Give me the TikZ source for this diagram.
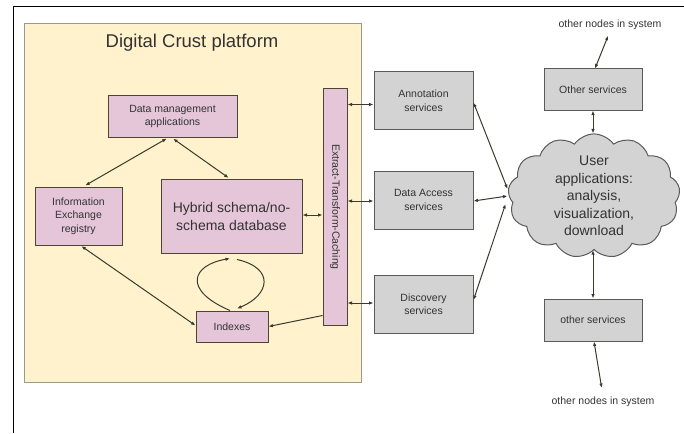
\documentclass[tikz,border=0pt]{standalone}
\usepackage{fontspec}
\setmainfont{Liberation Sans}
\usetikzlibrary{shapes.symbols,arrows.meta,calc}
\definecolor{platfill}{HTML}{FFF2CC}
\definecolor{platdraw}{HTML}{9A9A8A}
\definecolor{pinkfill}{HTML}{E4C6D8}
\definecolor{pinkdraw}{HTML}{4E4434}
\definecolor{grayfill}{HTML}{D3D3D3}
\definecolor{graydraw}{HTML}{5A5A5A}
\definecolor{txt}{HTML}{333333}
\definecolor{arr}{HTML}{3A3A2E}
\begin{document}
\begin{tikzpicture}[x=1pt,y=-1pt,
  pbox/.style={draw=pinkdraw,fill=pinkfill,line width=1pt,inner sep=1pt,align=center,text=txt,font=\fontsize{10.5}{13.5}\selectfont},
  gbox/.style={draw=graydraw,fill=grayfill,line width=1pt,inner sep=1pt,align=center,text=txt,font=\fontsize{10.5}{13.5}\selectfont},
  plain/.style={inner sep=1pt,text=txt,font=\fontsize{10.5}{13}\selectfont},
  dbl/.style={draw=arr,line width=1pt,{Latex[length=4.5pt,width=3.5pt]}-{Latex[length=4.5pt,width=3.5pt]}},
  sgl/.style={draw=arr,line width=1pt,-{Latex[length=4.5pt,width=3.5pt]}}]
\useasboundingbox (0,0) rectangle (684,433);
% outer frame
\draw[black,line width=0.8pt] (13,433) -- (13,6) -- (684,6);
% platform
\node[draw=platdraw,fill=platfill,line width=1pt,minimum width=337pt,minimum height=358pt,inner sep=0pt] (plat) at (192.5,203) {};
\node[plain,font=\fontsize{18.5}{22}\selectfont] (title) at (192,43) {Digital Crust platform};
% pink boxes
\node[pbox,minimum width=129pt,minimum height=41pt] (dma) at (172.5,116.5) {Data management\\applications};
\node[pbox,minimum width=87pt,minimum height=58pt] (ier) at (78.5,216) {Information\\Exchange\\registry};
\node[pbox,minimum width=141pt,minimum height=74pt,font=\fontsize{14}{18}\selectfont] (hyb) at (231.5,216) {Hybrid schema/no-\\schema database};
\node[pbox,minimum width=72pt,minimum height=31pt] (idx) at (232,326.5) {Indexes};
\node[pbox,minimum width=24pt,minimum height=236pt] (etc) at (335,207) {};
\node[plain,rotate=-90] (etclbl) at (etc.center) {Extract-Transform-Caching};
% gray boxes
\node[gbox,minimum width=99pt,minimum height=57pt] (ann) at (423.5,100.5) {Annotation\\services};
\node[gbox,minimum width=99pt,minimum height=58pt] (da) at (423.5,200) {Data Access\\services};
\node[gbox,minimum width=99pt,minimum height=58pt] (disc) at (423.5,304) {Discovery\\services};
\node[gbox,minimum width=98pt,minimum height=41pt] (ots) at (593,89.5) {Other services};
\node[gbox,minimum width=98pt,minimum height=42pt] (obs) at (593,320) {other services};
% cloud
\node[cloud,cloud puffs=13,cloud puff arc=110,draw=graydraw,fill=grayfill,line width=1pt,minimum width=172pt,minimum height=106pt,inner sep=0pt,align=center,text=txt,font=\fontsize{14}{17.5}\selectfont] (cl) at (594,196) {User\\applications:\\analysis,\\visualization,\\download};
% texts
\node[plain] (ttop) at (610,25) {other nodes in system};
\node[plain] (tbot) at (603,402) {other nodes in system};
% connectors inside platform
\draw[dbl,shorten <=2pt,shorten >=2pt] ([xshift=-4pt]dma.south) -- ([xshift=5pt]ier.north);
\draw[dbl,shorten <=2pt,shorten >=1pt] ([xshift=-1pt]dma.south) -- ([xshift=-2pt]hyb.north);
\draw[dbl,shorten <=1pt] ([xshift=2pt]ier.south) -- ([yshift=1pt]idx.west);
\draw[sgl] ([xshift=-2pt]idx.north) .. controls (182,290) and (192,265) .. ([xshift=-1.5pt,yshift=-5pt]hyb.south);
\draw[sgl] ([xshift=5.5pt,yshift=-6pt]hyb.south) .. controls (275,268) and (270,295) .. ([xshift=5pt,yshift=2pt]idx.north);
\draw[dbl] ([yshift=1pt]hyb.east) -- ([yshift=1pt]hyb.east -| etc.west);
\draw[sgl] ([yshift=10pt]etc.south west) -- (idx.east);
% ETC to services
\coordinate (annw) at ([yshift=-4pt]ann.west);
\draw[dbl] (annw) -- (annw -| etc.east);
\draw[dbl] ([yshift=-1pt]da.west) -- ([yshift=-1pt]da.west -| etc.east);
\draw[dbl] ([yshift=1pt]disc.west) -- ([yshift=1pt]disc.west -| etc.east);
% services to cloud
\draw[dbl] ([yshift=-2pt]ann.east) -- ([xshift=-1pt,yshift=7pt]cl.west);
\draw[dbl] ([yshift=-1pt]da.east) -- ([xshift=-1pt]cl.west);
\draw[dbl] ([yshift=4pt]disc.east) -- ([xshift=-3pt,yshift=-8pt]cl.west);
% other services
\draw[dbl] (ots.south) -- (ots.south |- cl.north);
\draw[dbl] (obs.north) -- (obs.north |- cl.south);
\draw[dbl,shorten >=5pt] ([xshift=2pt]ots.north) -- (ttop.south);
\draw[dbl,shorten >=8pt] ([xshift=1pt]obs.south) -- (tbot.north);
\end{tikzpicture}
\end{document}
